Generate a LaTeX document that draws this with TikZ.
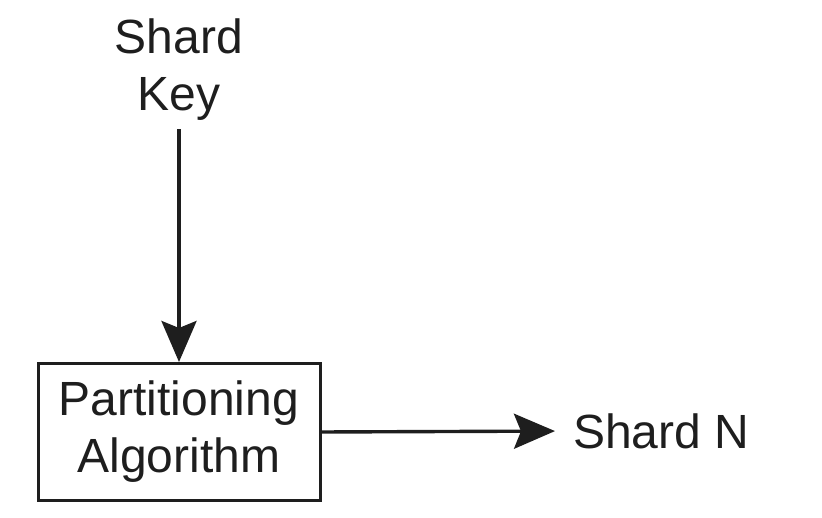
\documentclass[tikz,border=0pt]{standalone}
\usepackage{fontspec}
\setmainfont{Liberation Sans}
\usetikzlibrary{arrows.meta}
\definecolor{ink}{HTML}{1E1E1E}
\tikzset{
  lbl/.style={inner sep=0pt, align=center, text=ink, font=\fontsize{48}{57}\selectfont},
  boxnode/.style={draw=ink, line width=3pt, minimum width=282pt, minimum height=137pt, inner sep=0pt, align=center, text=ink, font=\fontsize{48}{57}\selectfont},
  conn/.style={draw=ink, line width=3.8pt, -{Stealth[length=41pt, width=35pt, inset=7pt]}}
}
\begin{document}
\begin{tikzpicture}[x=1pt, y=-1pt]
\useasboundingbox (0,0) rectangle (822,518);
\node[lbl] (key) at (179,70) {Shard\\Key};
\node[boxnode] (alg) at (179,432) {Partitioning\\Algorithm};
\node[lbl, anchor=west] (shn) at (573,431) {Shard N};
\draw[conn, shorten <=8pt] (key.south) -- (alg.north);
\draw[conn, line width=3.4pt, shorten >=18pt] (alg.east) -- (shn.west);
\end{tikzpicture}
\end{document}
